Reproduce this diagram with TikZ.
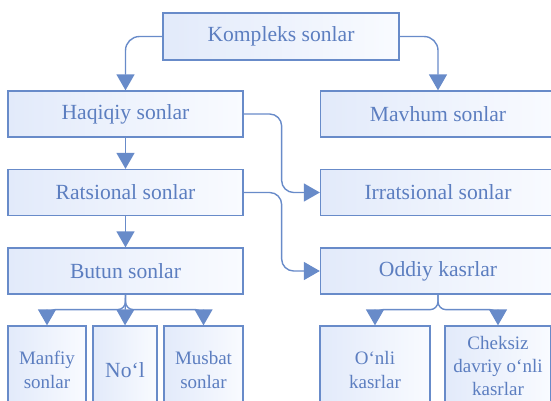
\documentclass[tikz,border=0pt]{standalone}
\usepackage{fontspec}
\setmainfont{Liberation Serif}
\usetikzlibrary{calc}
\usetikzlibrary{arrows.meta}
\definecolor{edgeblue}{RGB}{104,139,201}
\definecolor{textblue}{RGB}{92,126,192}
\definecolor{fillleft}{RGB}{226,234,250}
\definecolor{fillright}{RGB}{249,251,255}

\begin{document}
\begin{tikzpicture}[x=1pt,y=-1pt,-{Triangle[width=18pt,length=16pt]},color=edgeblue,line width=1.4pt,
	  num box/.style={rectangle,draw=edgeblue,line width=1.3pt,left color=fillleft,right color=fillright,
	    text=textblue,font=\fontsize{21.6}{25}\selectfont,minimum width=235pt,minimum height=46pt,inner sep=0pt},
	  leaf box/.style={num box,minimum height=88pt,align=center,font=\fontsize{19}{24.5}\selectfont}]

	  \useasboundingbox (0,0) rectangle (551,400);
	  \clip (0,0) rectangle (551,400);

	  \node[num box, minimum width=236pt, minimum height=47pt] (kompleks) at (281,36.5) {Kompleks sonlar};
	  \node[num box] (haqiqiy) at (125.5,114) {Haqiqiy sonlar};
	  \node[num box] (mavhum) at (438,114) {Mavhum sonlar};
	  \node[num box] (ratsional) at ($ (haqiqiy) + (0,78.5) $) {Ratsional sonlar};
	  \node[num box] (irratsional) at ($ (mavhum) + (0,78.5) $) {Irratsional sonlar};
	  \node[num box] (butun) at ($ (ratsional) + (0,78.5) $) {Butun sonlar};
	  \node[num box] (oddiy) at ($ (irratsional) + (0,78.5) $) {Oddiy kasrlar};

	  \node[leaf box, minimum width=78pt] (manfiy) at (47,370) {Manfiy\\sonlar};
	  \node[leaf box, minimum width=64pt, font=\fontsize{21.6}{25}\selectfont] (nol) at (125,370) {No‘l};
	  \node[leaf box, minimum width=79pt] (musbat) at (203.5,370) {Musbat\\sonlar};
	  \node[leaf box, minimum width=110pt] (onli) at (375,370) {O‘nli\\kasrlar};
	  \node[leaf box, minimum width=106pt, minimum height=80pt, font=\fontsize{19}{23}\selectfont] (cheksiz) at (498,366) {Cheksiz\\davriy o‘nli\\kasrlar};

	  \draw[rounded corners=14pt] (kompleks.west) -| (haqiqiy.north);
	  \draw[rounded corners=14pt] (kompleks.east) -| (mavhum.north);
	  \draw (haqiqiy) -- (ratsional);
	  \draw (ratsional) -- (butun);
	  \draw[rounded corners=12pt] (haqiqiy.east) -- ++(38,0) |- (irratsional.west);
	  \draw[rounded corners=12pt] (ratsional.east) -- ++(38,0) |- (oddiy.west);

	  \draw[rounded corners=8pt] (butun.south) -- ++(0,15) -| (manfiy.north);
	  \draw (butun.south) -- (nol.north);
	  \draw[rounded corners=8pt] (butun.south) -- ++(0,15) -| (musbat.north);
	  \draw[rounded corners=8pt] (oddiy.south) -- ++(0,15) -| (onli.north);
	  \draw[rounded corners=8pt] (oddiy.south) -- ++(0,15) -| (cheksiz.north);
\end{tikzpicture}
\end{document}
